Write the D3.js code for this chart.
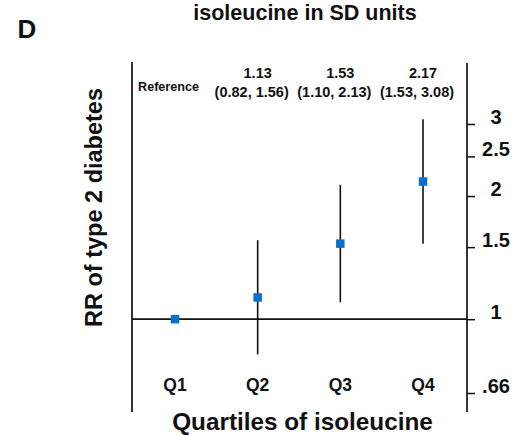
<!DOCTYPE html>
<html>
<head>
<meta charset="utf-8">
<script src="https://cdn.jsdelivr.net/npm/d3@7"></script>
<style>
  html, body { margin: 0; padding: 0; background: #fff; }
  svg text { font-family: "Liberation Sans", Arial, sans-serif; font-weight: bold; fill: #111; }
</style>
</head>
<body>
<svg id="chart" width="531" height="435"></svg>
<script>
// Relative risk of type 2 diabetes by quartile of isoleucine
const quartiles = ["Q1", "Q2", "Q3", "Q4"];
const rr = [1, 1.13, 1.53, 2.17];
const ciLow = [null, 0.82, 1.10, 1.53];
const ciHigh = [null, 1.56, 2.13, 3.08];
const rrLabels = ["Reference", "1.13", "1.53", "2.17"];
const ciLabels = [null, "(0.82, 1.56)", "(1.10, 2.13)", "(1.53, 3.08)"];
const yTicks = [0.66, 1, 1.5, 2, 2.5, 3];
const yTickLabels = [".66", "1", "1.5", "2", "2.5", "3"];

const svg = d3.select("#chart");
const frameLeft = 132, frameRight = 467, frameTop = 62, frameBottom = 412;

const x = d3.scalePoint().domain(quartiles).range([175, 423]);
const y = d3.scaleLog().domain([0.66, 3]).range([393, 124]);

// left vertical rule
svg.append("line").attr("x1", frameLeft).attr("x2", frameLeft).attr("y1", frameTop).attr("y2", frameBottom)
  .attr("stroke", "#111").attr("stroke-width", 1.7);

// right-hand log axis
const axis = d3.axisRight(y).tickValues(yTicks).tickFormat((d, i) => yTickLabels[i])
  .tickSize(8).tickPadding(21);
const ax = svg.append("g").attr("transform", `translate(${frameRight},0)`).call(axis);
ax.select(".domain").remove();
svg.append("line").attr("x1", frameRight).attr("x2", frameRight).attr("y1", frameTop + 1).attr("y2", frameBottom)
  .attr("stroke", "#111").attr("stroke-width", 1.7);
ax.selectAll(".tick line").attr("stroke", "#111").attr("stroke-width", 1.5);
ax.selectAll(".tick text")
  .attr("font-size", 20).attr("font-family", "Liberation Sans, Arial, sans-serif")
  .attr("font-weight", "bold").attr("fill", "#111")
  .attr("text-anchor", "middle").attr("dy", 0).attr("y", -1);

// reference line at RR = 1
svg.append("line").attr("x1", frameLeft).attr("x2", frameRight).attr("y1", y(1)).attr("y2", y(1))
  .attr("stroke", "#111").attr("stroke-width", 1.7);

// confidence intervals
const idx = d3.range(quartiles.length).filter(i => ciLow[i] !== null);
svg.selectAll(".ci").data(idx).join("line").attr("class", "ci")
  .attr("x1", i => x(quartiles[i])).attr("x2", i => x(quartiles[i]))
  .attr("y1", i => y(ciLow[i])).attr("y2", i => y(ciHigh[i]))
  .attr("stroke", "#111").attr("stroke-width", 1.6);

// point estimates
const s = 8.5;
svg.selectAll(".pt").data(d3.range(quartiles.length)).join("rect").attr("class", "pt")
  .attr("x", i => x(quartiles[i]) - s / 2).attr("y", i => y(rr[i]) - s / 2)
  .attr("width", s).attr("height", s).attr("fill", "#0b6fcc");

// estimate and CI annotations
svg.selectAll(".rrlab").data(d3.range(quartiles.length)).join("text").attr("class", "rrlab")
  .attr("x", i => i === 0 ? 168.5 : x(quartiles[i]))
  .attr("y", i => i === 0 ? 91 : 78)
  .attr("text-anchor", "middle")
  .attr("font-size", i => i === 0 ? 12.6 : 14.5)
  .text(i => rrLabels[i]);
svg.selectAll(".cilab").data(idx).join("text").attr("class", "cilab")
  .attr("x", i => x(quartiles[i]) - 6).attr("y", 97)
  .attr("text-anchor", "middle").attr("font-size", 14.5)
  .text(i => ciLabels[i]);

// quartile labels
svg.selectAll(".qlab").data(quartiles).join("text").attr("class", "qlab")
  .attr("x", d => x(d)).attr("y", 391).attr("text-anchor", "middle")
  .attr("font-size", 17.5).text(d => d);

// titles
svg.append("text").attr("x", 305).attr("y", 20).attr("text-anchor", "middle")
  .attr("font-size", 21.5).text("isoleucine in SD units");
svg.append("text").attr("x", 17.5).attr("y", 37.5).attr("font-size", 26).text("D");
svg.append("text").attr("x", 302.5).attr("y", 430).attr("text-anchor", "middle")
  .attr("font-size", 24.3).text("Quartiles of isoleucine");
svg.append("text").attr("transform", "translate(102,207.5) rotate(-90)")
  .attr("text-anchor", "middle").attr("font-size", 23.5).text("RR of type 2 diabetes");
</script>
</body>
</html>
